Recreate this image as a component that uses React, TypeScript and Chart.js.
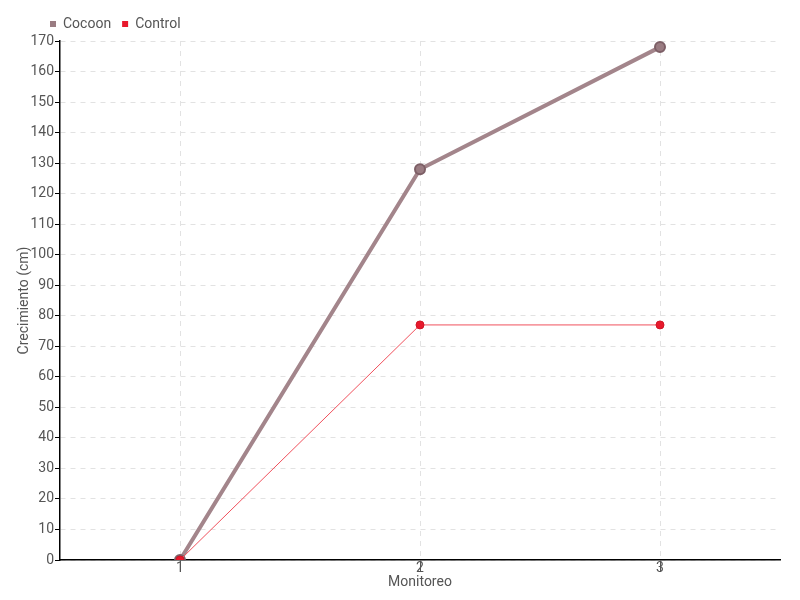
import React, { useEffect, useRef } from "react";
import { Chart, registerables } from "chart.js";

Chart.register(...registerables);

const categories = ["1", "2", "3"];
const cocoonValues = [0, 128, 168];
const controlValues = [0, 77, 77];
const FONT = "Roboto, 'DejaVu Sans', sans-serif";

const shiftLegend = {
  id: "shiftLegend",
  afterLayout(chart: any) {
    if (chart.legend) {
      chart.legend.left += 39;
      chart.legend.right += 39;
    }
  },
};

export default function App() {
  const ref = useRef<HTMLCanvasElement | null>(null);
  useEffect(() => {
    if (!ref.current) return;
    const chart = new Chart(ref.current, {
      type: "line",
      plugins: [shiftLegend],
      data: {
        labels: categories,
        datasets: [
          {
            label: "Cocoon",
            data: cocoonValues,
            order: 1,
            borderColor: "#a3858b",
            backgroundColor: "#9a7c82",
            borderWidth: 4,
            pointRadius: 5,
            pointBorderColor: "#7d5f66",
            pointBorderWidth: 2,
            pointBackgroundColor: "#9a7c82",
            tension: 0,
          },
          {
            label: "Control",
            data: controlValues,
            order: 0,
            borderColor: "#f0505c",
            backgroundColor: "#e8192c",
            borderWidth: 1,
            pointRadius: 4,
            pointBorderColor: "#d01424",
            pointBorderWidth: 1,
            pointBackgroundColor: "#e8192c",
            tension: 0,
          },
        ],
      },
      options: {
        animation: false,
        responsive: false,
        maintainAspectRatio: false,
        layout: { padding: { left: 0, right: 20, top: 6, bottom: 0 } },
        plugins: {
          legend: {
            position: "top",
            align: "start",
            labels: {
              boxWidth: 6,
              boxHeight: 6,
              padding: 11,
              color: "#555",
              font: { family: FONT, size: 14 },
              sort: (a: any, b: any) => a.datasetIndex - b.datasetIndex,
              generateLabels: (c: any) => {
                const items = Chart.defaults.plugins.legend.labels.generateLabels(c);
                return items.map((it: any) => ({ ...it, lineWidth: 0, strokeStyle: "rgba(0,0,0,0)" }));
              },
            },
          },
          tooltip: { enabled: false },
        },
        scales: {
          x: {
            type: "category",
            offset: true,
            title: {
              display: true,
              text: "Monitoreo",
              color: "#555",
              font: { family: FONT, size: 14 },
              padding: { top: 0, bottom: 9 },
            },
            grid: {
              color: "#e2e2e2",
              tickColor: "#555",
              tickLength: 12,
              offset: false,
            },
            border: { color: "#000", width: 1.5, dash: [5, 5] },
            ticks: {
              color: "#555",
              padding: -12,
              font: { family: FONT, size: 14 },
            },
            afterFit: (s: any) => {
              s.height = 40;
            },
          },
          y: {
            min: 0,
            max: 170,
            title: {
              display: true,
              text: "Crecimiento (cm)",
              color: "#555",
              font: { family: FONT, size: 14 },
              padding: { top: 16, bottom: 0 },
            },
            grid: {
              color: "#e2e2e2",
              tickColor: "#000",
              tickLength: 5,
            },
            border: { color: "#000", width: 1.5, dash: [5, 5] },
            ticks: {
              stepSize: 10,
              color: "#555",
              padding: 1,
              font: { family: FONT, size: 14 },
            },
            afterFit: (s: any) => {
              s.width = 60;
            },
          },
        },
      },
    });
    return () => chart.destroy();
  }, []);
  return (
    <div style={{ position: "fixed", left: 0, top: 0, width: 800, height: 600, background: "#fff" }}>
      <canvas ref={ref} width={800} height={600} style={{ width: 800, height: 600 }} />
    </div>
  );
}
